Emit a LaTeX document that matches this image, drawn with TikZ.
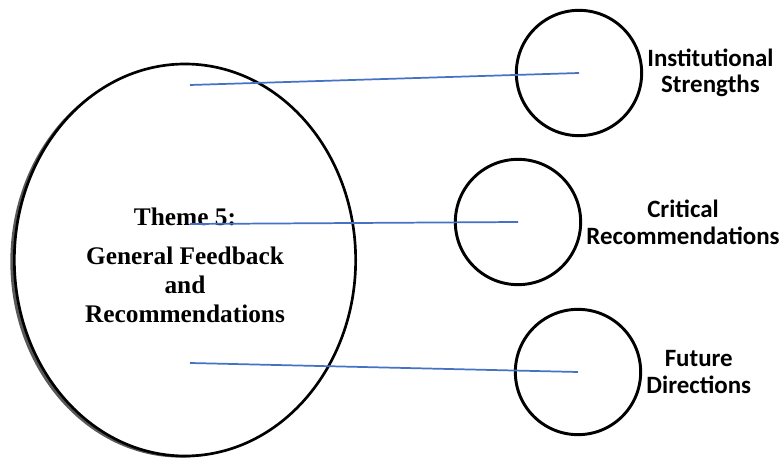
\documentclass[tikz,border=0pt]{standalone}
\usepackage{fontspec}
\setmainfont{Liberation Serif}
\newfontfamily\labelfont{Carlito}
\usepackage{tikz}
\usetikzlibrary{shapes.geometric, positioning, shadows}
\definecolor{LinkBlue}{RGB}{68, 114, 196}

\begin{document}
\begin{tikzpicture}[
    x=0.75pt, y=-0.75pt,
    bigcircle/.style={ellipse, draw=black, line width=2pt, fill=white,
                      minimum width=256pt, minimum height=294pt, inner sep=0pt,
                      drop shadow={shadow xshift=-3pt, shadow yshift=-1.2pt, fill=black!65, opacity=1}},
    subcircle/.style={circle, draw=black, line width=2.2pt, fill=white,
                      minimum size=94pt, inner sep=0pt,
                      drop shadow={shadow xshift=-0.8pt, shadow yshift=-0.5pt, fill=black!50, opacity=1}},
    themetext/.style={align=center, inner sep=0pt, font=\fontsize{19}{21.75}\selectfont\bfseries},
    sublabel/.style={align=center, inner sep=1pt, font=\labelfont\fontsize{18.7}{20}\selectfont\bfseries},
    link/.style={draw=LinkBlue, line width=1.3pt}
]
\useasboundingbox (0,0) rectangle (781,459);

% Main theme
\node[bigcircle] (theme) at (185,260) {};
\node[themetext] (themelbl) at ([yshift=-4pt]theme.center)
    {Theme 5:\\[8pt] General Feedback\\ and\\ Recommendations};

% Sub-themes
\node[subcircle] (strengths) at (579,73) {};
\node[subcircle] (critical) at (518,222) {};
\node[subcircle] (future) at (578,372) {};

\node[sublabel, right=2pt of strengths] (strengthslbl) {Institutional\\ Strengths};
\node[sublabel, right=2pt of critical] (criticallbl) {Critical\\ Recommendations};
\node[sublabel, right=2pt of future] (futurelbl) {Future\\ Directions};

% Links
\coordinate (s1) at (190,85);
\coordinate (s2) at (190,224);
\coordinate (s3) at (190,363);
\draw[link] (s1) -- (strengths.center);
\draw[link] (s2) -- (critical.center);
\draw[link] (s3) -- (future.center);

\end{tikzpicture}
\end{document}
